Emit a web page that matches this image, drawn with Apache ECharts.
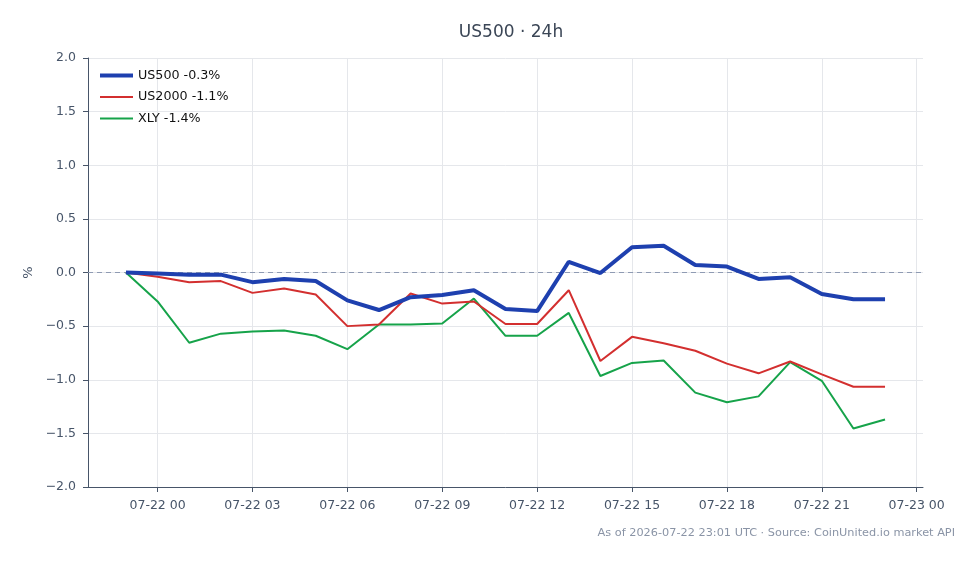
<!DOCTYPE html>
<html><head><meta charset="utf-8">
<script src="https://cdn.jsdelivr.net/npm/echarts@6/dist/echarts.min.js"></script>
<style>html,body{margin:0;padding:0;background:#fff}#c{width:979px;height:564px}</style>
</head><body><div id="c"></div>
<script>
const times = ['2026-07-21T23:00:00Z','2026-07-22T00:00:00Z','2026-07-22T01:00:00Z','2026-07-22T02:00:00Z','2026-07-22T03:00:00Z','2026-07-22T04:00:00Z','2026-07-22T05:00:00Z','2026-07-22T06:00:00Z','2026-07-22T07:00:00Z','2026-07-22T08:00:00Z','2026-07-22T09:00:00Z','2026-07-22T10:00:00Z','2026-07-22T11:00:00Z','2026-07-22T12:00:00Z','2026-07-22T13:00:00Z','2026-07-22T14:00:00Z','2026-07-22T15:00:00Z','2026-07-22T16:00:00Z','2026-07-22T17:00:00Z','2026-07-22T18:00:00Z','2026-07-22T19:00:00Z','2026-07-22T20:00:00Z','2026-07-22T21:00:00Z','2026-07-22T22:00:00Z','2026-07-22T23:00:00Z'];
const us500 = [0.00,-0.01,-0.02,-0.02,-0.09,-0.06,-0.08,-0.26,-0.35,-0.23,-0.21,-0.165,-0.34,-0.36,0.10,-0.005,0.235,0.25,0.07,0.055,-0.06,-0.045,-0.20,-0.25,-0.25];
const us2000 = [0.00,-0.04,-0.09,-0.08,-0.19,-0.15,-0.205,-0.50,-0.485,-0.196,-0.29,-0.27,-0.48,-0.48,-0.165,-0.825,-0.60,-0.66,-0.73,-0.85,-0.94,-0.83,-0.95,-1.065,-1.065];
const xly = [0.00,-0.27,-0.655,-0.57,-0.55,-0.54,-0.59,-0.715,-0.485,-0.485,-0.476,-0.243,-0.59,-0.59,-0.377,-0.965,-0.843,-0.82,-1.12,-1.21,-1.155,-0.835,-1.01,-1.455,-1.37];
const seriesNames = ['US500 -0.3%','US2000 -1.1%','XLY -1.4%'];
const xTickLabels = ['2026-07-22T00:00:00Z','2026-07-22T03:00:00Z','2026-07-22T06:00:00Z','2026-07-22T09:00:00Z','2026-07-22T12:00:00Z','2026-07-22T15:00:00Z','2026-07-22T18:00:00Z','2026-07-22T21:00:00Z','2026-07-23T00:00:00Z'];
const xMin = '2026-07-21T21:48:00Z';
const xMax = '2026-07-23T00:12:00Z';
const titleText = 'US500 · 24h';
const footText = 'As of 2026-07-22 23:01 UTC · Source: CoinUnited.io market API';

const T = s => Date.parse(s);
const pair = arr => arr.map((v, i) => [T(times[i]), v]);
const tickVals = xTickLabels.map(T);
const pad = n => (n < 10 ? '0' : '') + n;
const fmtX = v => { const d = new Date(v); return pad(d.getUTCMonth() + 1) + '-' + pad(d.getUTCDate()) + ' ' + pad(d.getUTCHours()); };
const FONT = 'DejaVu Sans';
const axisCol = '#475569';
const gridCol = '#e5e7eb';
const colors = ['#1e40af', '#d32f2f', '#16a34a'];
const widths = [4, 2, 2];

const chart = echarts.init(document.getElementById('c'), null, {renderer: 'canvas'});
chart.setOption({
  animation: false,
  backgroundColor: '#fff',
  textStyle: {fontFamily: FONT},
  title: {
    text: titleText, left: 506, top: 19, textAlign: 'center',
    textStyle: {fontFamily: FONT, fontSize: 17, fontWeight: 'normal', color: '#3b4656'}
  },
  graphic: [{
    type: 'text', right: 24, top: 528,
    style: {text: footText, fill: '#8a94a6', font: '11.3px "DejaVu Sans"'}
  }],
  legend: {
    left: 98, top: 69, padding: 0, orient: 'vertical', itemWidth: 33, itemHeight: 14, itemGap: 8.5,
    itemStyle: {opacity: 0},
    textStyle: {fontFamily: FONT, fontSize: 12.7, color: '#111'},
    data: seriesNames.map((n, i) => ({name: n, lineStyle: {width: widths[i], color: colors[i]}}))
  },
  grid: {left: 88, right: 56, top: 58, bottom: 77, containLabel: false},
  xAxis: {
    type: 'value', min: T(xMin), max: T(xMax), scale: true,
    axisLine: {show: true, onZero: false, lineStyle: {color: axisCol, width: 1}},
    axisTick: {show: true, length: 5, customValues: tickVals, lineStyle: {color: axisCol}},
    axisLabel: {customValues: tickVals, formatter: v => fmtX(v), color: axisCol, fontFamily: FONT, fontSize: 12.5, margin: 12, hideOverlap: false, showMinLabel: true, showMaxLabel: true},
    splitLine: {show: true, lineStyle: {color: gridCol, width: 1}}
  },
  yAxis: {
    type: 'value', min: -2, max: 2, interval: 0.5,
    name: '%', nameLocation: 'middle', nameGap: 50, nameRotate: 90,
    nameTextStyle: {color: axisCol, fontFamily: FONT, fontSize: 13},
    axisLine: {show: true, lineStyle: {color: axisCol, width: 1}},
    axisTick: {show: true, length: 5, lineStyle: {color: axisCol}},
    axisLabel: {formatter: v => v.toFixed(1).replace('-', '\u2212'), color: axisCol, fontFamily: FONT, fontSize: 12.5, margin: 12},
    splitLine: {show: true, lineStyle: {color: gridCol, width: 1}}
  },
  series: [
    {name: seriesNames[0], type: 'line', data: pair(us500), symbol: 'none', z: 5,
     lineStyle: {color: colors[0], width: widths[0]}, itemStyle: {color: colors[0]},
     markLine: {silent: true, symbol: 'none', label: {show: false},
       lineStyle: {color: '#8f9bb3', type: [5, 4], width: 1.1}, data: [{yAxis: 0}], z: 1}},
    {name: seriesNames[1], type: 'line', data: pair(us2000), symbol: 'none', z: 4,
     lineStyle: {color: colors[1], width: widths[1]}, itemStyle: {color: colors[1]}},
    {name: seriesNames[2], type: 'line', data: pair(xly), symbol: 'none', z: 3,
     lineStyle: {color: colors[2], width: widths[2]}, itemStyle: {color: colors[2]}}
  ]
});
</script></body></html>
